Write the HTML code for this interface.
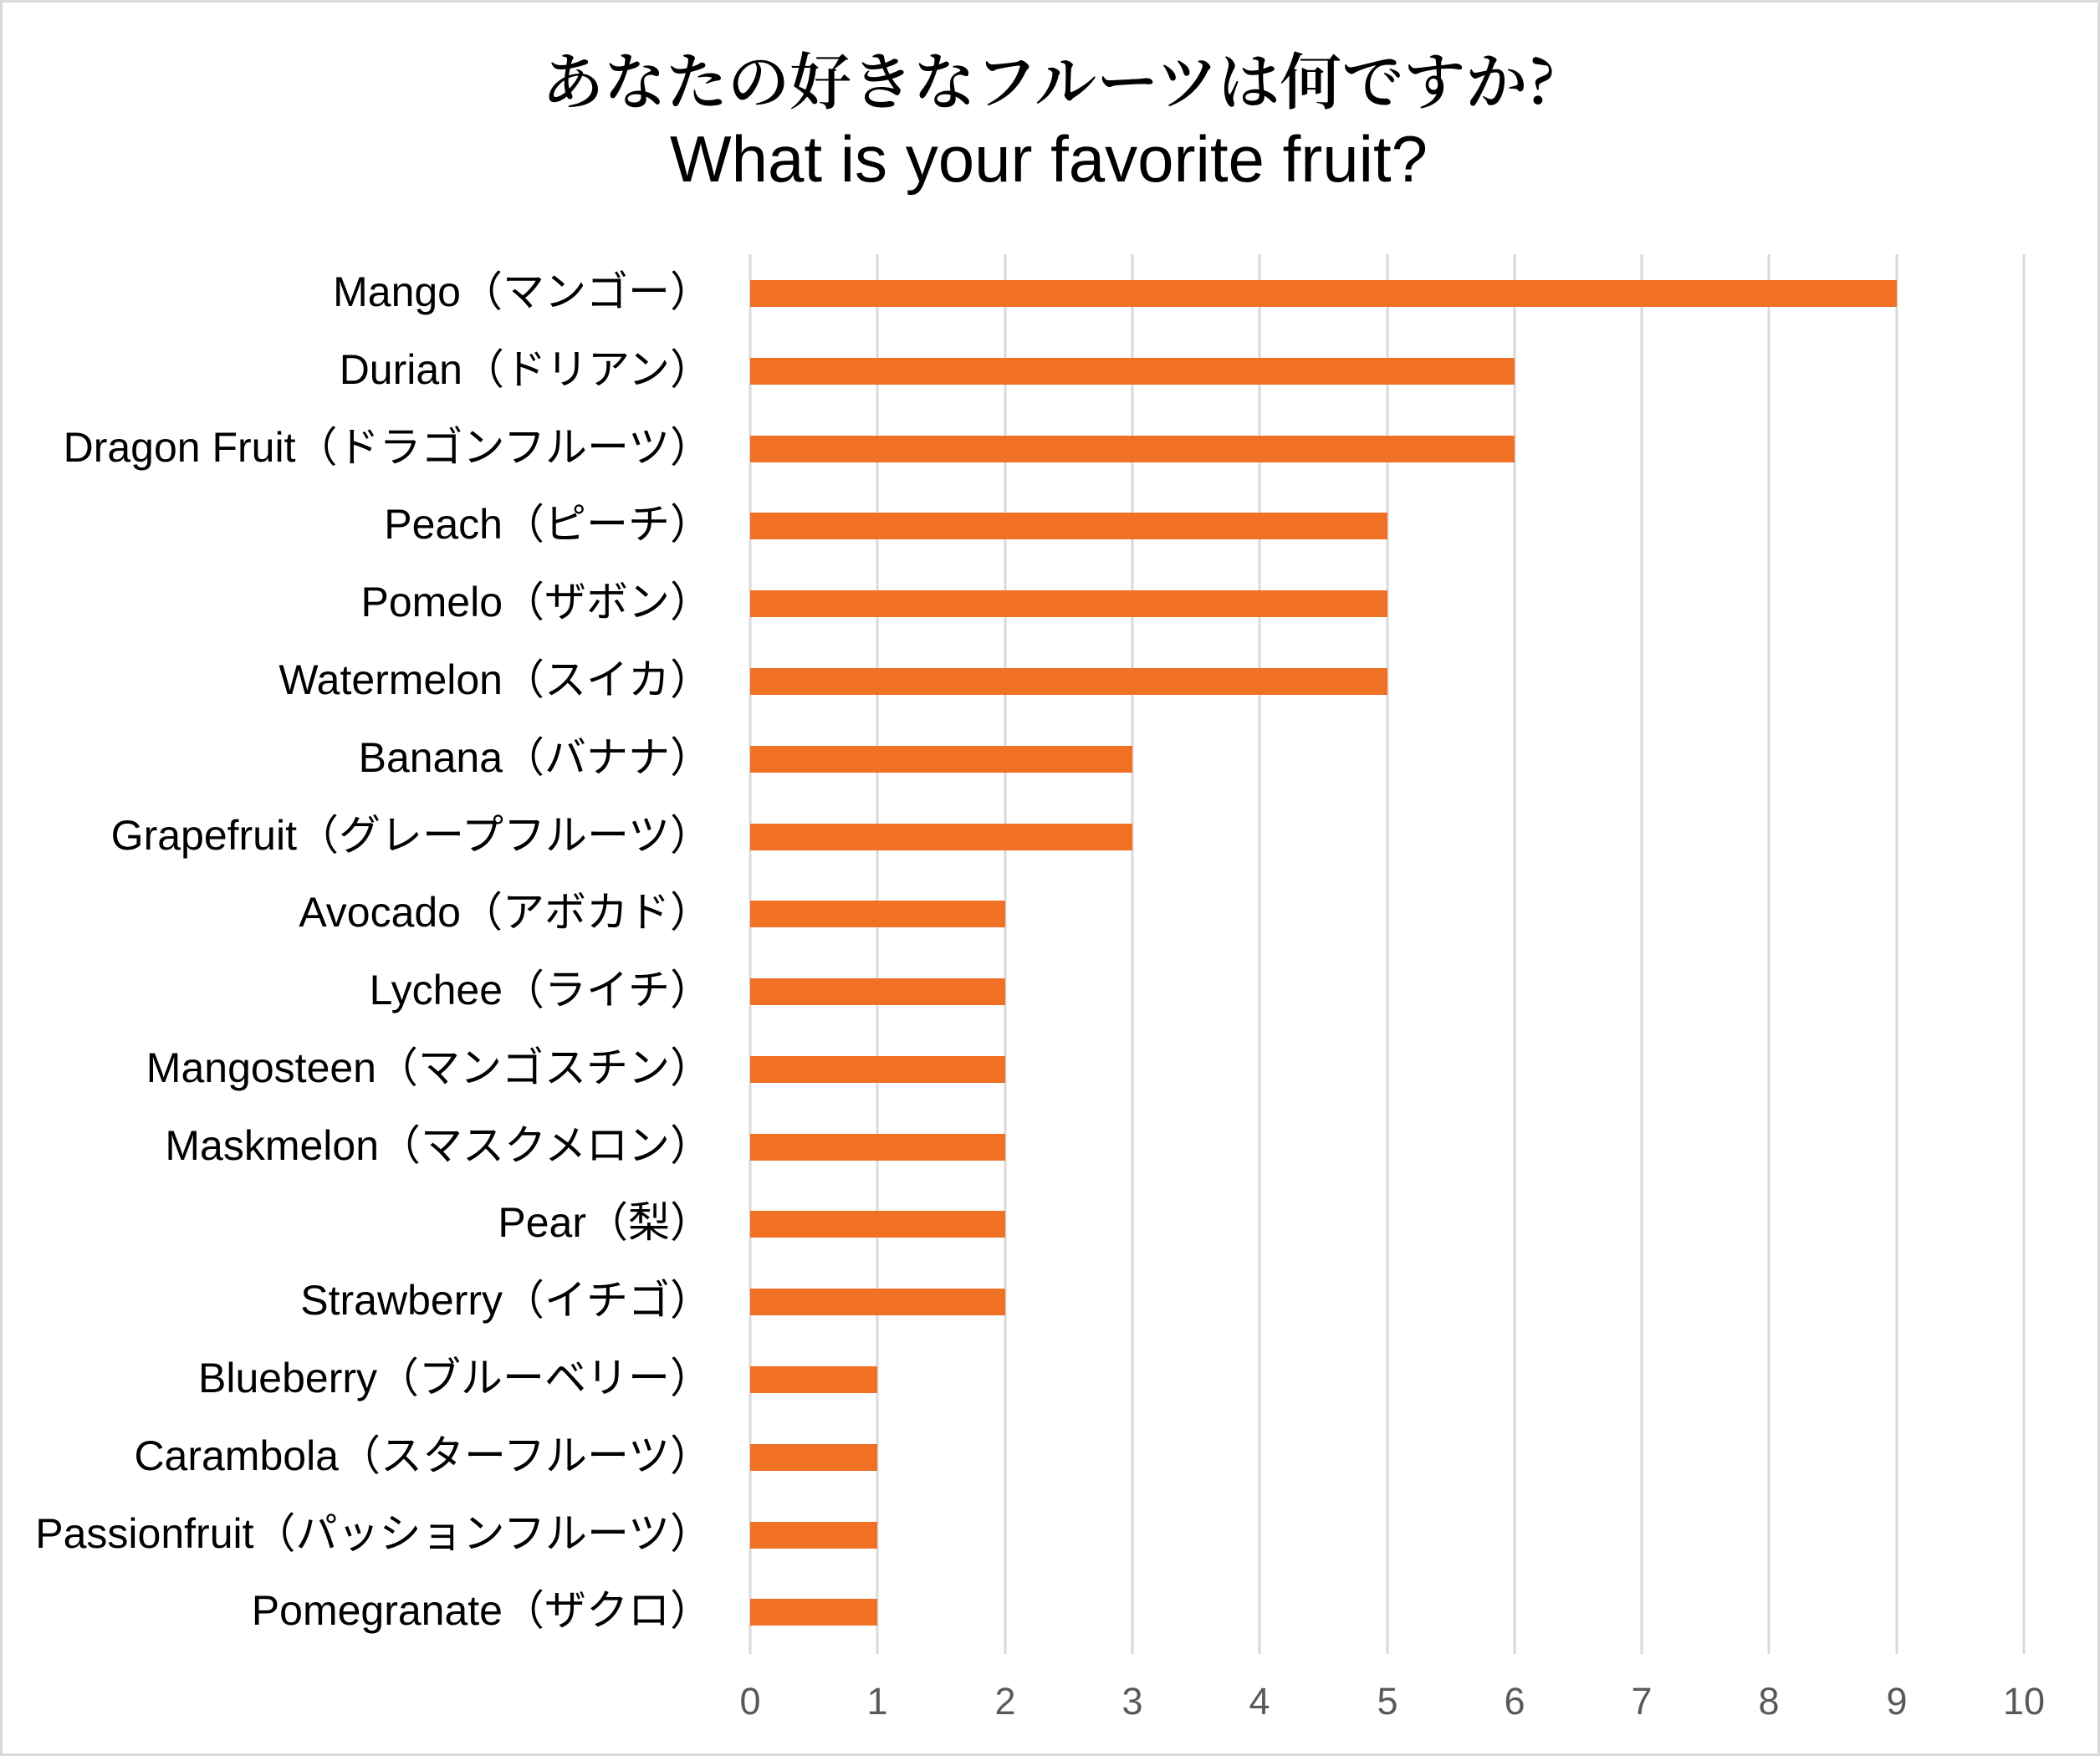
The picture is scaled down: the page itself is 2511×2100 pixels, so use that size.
<!DOCTYPE html>
<html><head><meta charset="utf-8"><style>
html,body{margin:0;padding:0;background:#fff;}
svg{display:block;}
</style></head><body>
<svg width="2511" height="2100" viewBox="0 0 2511 2100" xmlns="http://www.w3.org/2000/svg">
<rect x="1.5" y="1.5" width="2508" height="2097" fill="#fff" stroke="#d9d9d9" stroke-width="3"/>
<text x="1254" y="124" text-anchor="middle" font-family="'Noto Serif CJK SC','Liberation Serif',serif" font-weight="600" font-size="74" fill="#000">あなたの好きなフルーツは何ですか?</text>
<text x="1254" y="217" text-anchor="middle" font-family="'Liberation Sans',sans-serif" font-size="78" fill="#000">What is your favorite fruit?</text>
<g stroke="#d9d9d9" stroke-width="3">
<line x1="897" y1="304" x2="897" y2="1978"/>
<line x1="1049" y1="304" x2="1049" y2="1978"/>
<line x1="1202" y1="304" x2="1202" y2="1978"/>
<line x1="1354" y1="304" x2="1354" y2="1978"/>
<line x1="1506" y1="304" x2="1506" y2="1978"/>
<line x1="1659" y1="304" x2="1659" y2="1978"/>
<line x1="1811" y1="304" x2="1811" y2="1978"/>
<line x1="1963" y1="304" x2="1963" y2="1978"/>
<line x1="2115" y1="304" x2="2115" y2="1978"/>
<line x1="2268" y1="304" x2="2268" y2="1978"/>
<line x1="2420" y1="304" x2="2420" y2="1978"/>
</g>
<g font-family="'Liberation Sans',sans-serif" font-size="45" fill="#595959" text-anchor="middle">
<text x="897" y="2050">0</text><text x="1049" y="2050">1</text><text x="1202" y="2050">2</text><text x="1354" y="2050">3</text><text x="1506" y="2050">4</text><text x="1659" y="2050">5</text><text x="1811" y="2050">6</text><text x="1963" y="2050">7</text><text x="2115" y="2050">8</text><text x="2268" y="2050">9</text><text x="2420" y="2050">10</text>
</g>
<g fill="#F07024">
<rect x="897" y="335" width="1371" height="32"/>
<rect x="897" y="428" width="914" height="32"/>
<rect x="897" y="521" width="914" height="32"/>
<rect x="897" y="613" width="762" height="32"/>
<rect x="897" y="706" width="762" height="32"/>
<rect x="897" y="799" width="762" height="32"/>
<rect x="897" y="892" width="457" height="32"/>
<rect x="897" y="985" width="457" height="32"/>
<rect x="897" y="1077" width="305" height="32"/>
<rect x="897" y="1170" width="305" height="32"/>
<rect x="897" y="1263" width="305" height="32"/>
<rect x="897" y="1356" width="305" height="32"/>
<rect x="897" y="1448" width="305" height="32"/>
<rect x="897" y="1541" width="305" height="32"/>
<rect x="897" y="1634" width="152" height="32"/>
<rect x="897" y="1727" width="152" height="32"/>
<rect x="897" y="1820" width="152" height="32"/>
<rect x="897" y="1912" width="152" height="32"/>
</g>
<g font-family="'Liberation Sans','Noto Sans CJK JP',sans-serif" font-size="50" fill="#000" text-anchor="end" dominant-baseline="central">
<text x="851" y="349">Mango（マンゴー）</text>
<text x="851" y="442">Durian（ドリアン）</text>
<text x="851" y="535">Dragon Fruit（ドラゴンフルーツ）</text>
<text x="851" y="627">Peach（ピーチ）</text>
<text x="851" y="720">Pomelo（ザボン）</text>
<text x="851" y="813">Watermelon（スイカ）</text>
<text x="851" y="906">Banana（バナナ）</text>
<text x="851" y="999">Grapefruit（グレープフルーツ）</text>
<text x="851" y="1091">Avocado（アボカド）</text>
<text x="851" y="1184">Lychee（ライチ）</text>
<text x="851" y="1277">Mangosteen（マンゴスチン）</text>
<text x="851" y="1370">Maskmelon（マスクメロン）</text>
<text x="851" y="1462">Pear（梨）</text>
<text x="851" y="1555">Strawberry（イチゴ）</text>
<text x="851" y="1648">Blueberry（ブルーベリー）</text>
<text x="851" y="1741">Carambola（スターフルーツ）</text>
<text x="851" y="1834">Passionfruit（パッションフルーツ）</text>
<text x="851" y="1926">Pomegranate（ザクロ）</text>
</g>
</svg>
</body></html>
